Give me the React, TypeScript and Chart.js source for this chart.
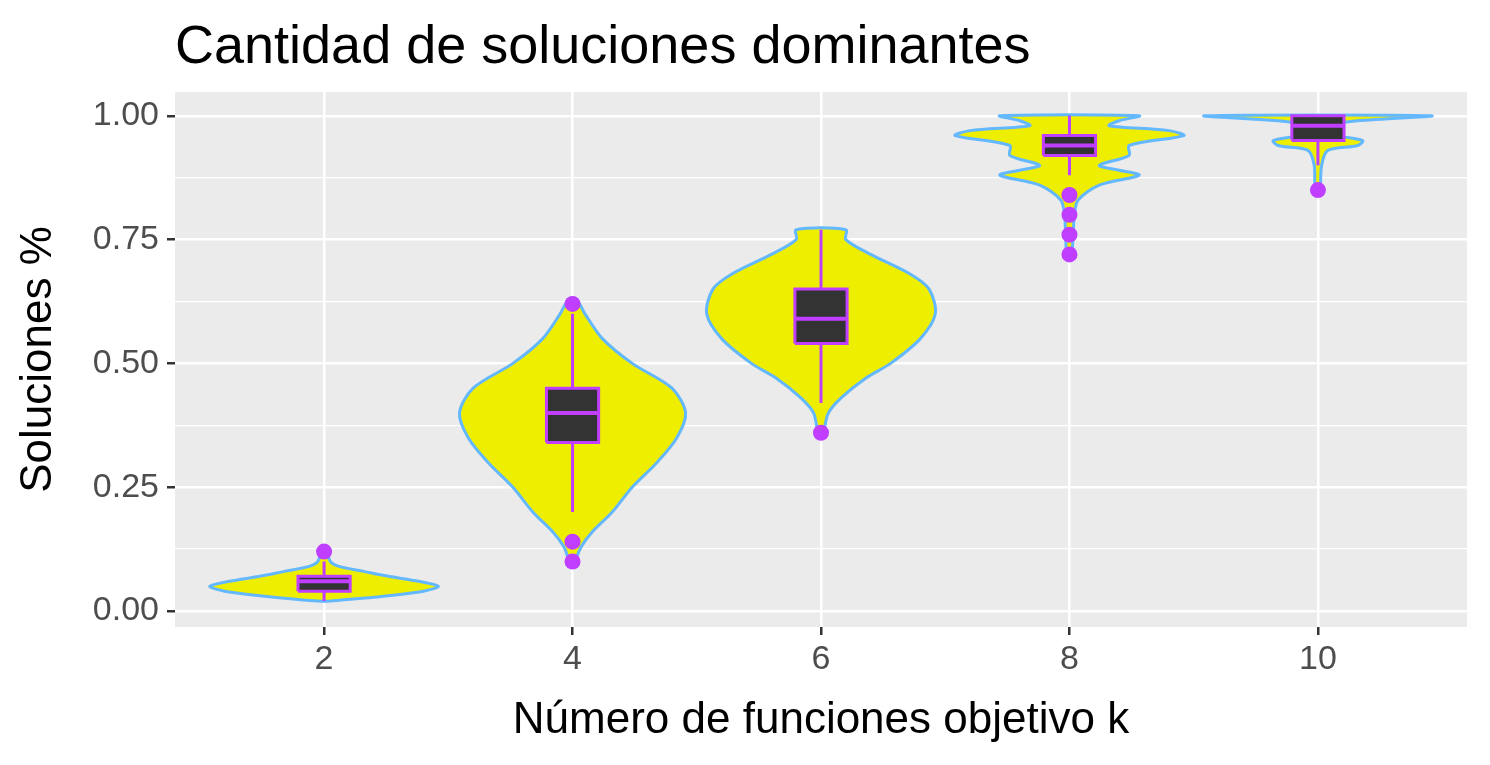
import { useEffect, useRef } from "react"
import Chart from "chart.js/auto"

const groups = [2, 4, 6, 8, 10]
const xTicks = [2, 4, 6, 8, 10]
const yTicks = [0, 0.125, 0.25, 0.375, 0.5, 0.625, 0.75, 0.875, 1]

// violin outlines: density levels (y) and half widths (x units)
const violinY = [
  [0.02, 0.03, 0.04, 0.05, 0.06, 0.07, 0.08, 0.09, 0.1, 0.12],
  [0.1, 0.13, 0.16, 0.2, 0.25, 0.3, 0.35, 0.4, 0.45, 0.5, 0.55, 0.6, 0.63],
  [0.36, 0.4, 0.43, 0.47, 0.5, 0.55, 0.6, 0.65, 0.68, 0.72, 0.75, 0.77],
  [0.72, 0.76, 0.8, 0.83, 0.86, 0.88, 0.89, 0.9, 0.92, 0.94, 0.96, 0.97, 0.98, 0.99, 1.0],
  [0.85, 0.9, 0.93, 0.94, 0.95, 0.96, 0.97, 0.98, 0.99, 1.0],
]
const violinW = [
  [0.05, 0.48, 0.8, 0.92, 0.76, 0.52, 0.32, 0.12, 0.05, 0.02],
  [0.02, 0.07, 0.16, 0.32, 0.48, 0.68, 0.84, 0.91, 0.8, 0.48, 0.24, 0.1, 0.03],
  [0.02, 0.06, 0.16, 0.36, 0.56, 0.8, 0.92, 0.87, 0.72, 0.4, 0.2, 0.2],
  [0.02, 0.03, 0.04, 0.07, 0.24, 0.56, 0.4, 0.24, 0.48, 0.48, 0.92, 0.8, 0.32, 0.4, 0.56],
  [0.02, 0.03, 0.08, 0.32, 0.36, 0.16, 0.07, 0.08, 0.32, 0.91],
]

const q1 = [0.04, 0.34, 0.54, 0.92, 0.95]
const median = [0.06, 0.4, 0.59, 0.94, 0.98]
const q3 = [0.07, 0.45, 0.65, 0.96, 1.0]
const whiskerLo = [0.02, 0.2, 0.42, 0.88, 0.9]
const whiskerHi = [0.1, 0.6, 0.77, 1.0, 1.0]
const outliers = [[0.12], [0.62, 0.14, 0.1], [0.36], [0.84, 0.8, 0.76, 0.72], [0.85]]

const BOX_HALF = 0.21
const PURPLE = "#BF3EFF"

const App = () => {
  const chartRef = useRef<HTMLCanvasElement>(null)
  const chartInstance = useRef<Chart | null>(null)

  useEffect(() => {
    document.body.style.margin = "0"
    if (!chartRef.current) return
    if (chartInstance.current) chartInstance.current.destroy()
    const ctx = chartRef.current.getContext("2d")
    if (!ctx) return

    const datasets: any[] = []
    groups.forEach((k, i) => {
      const ys = violinY[i]
      const ws = violinW[i]
      const pts = ys.map((y, j) => ({ x: k + ws[j], y }))
      for (let j = ys.length - 1; j >= 0; j--) pts.push({ x: k - ws[j], y: ys[j] })
      pts.push({ x: k + ws[0], y: ys[0] })
      datasets.push({
        type: "line", data: pts, order: 10, fill: "shape", tension: 0.3,
        backgroundColor: "#EEEE00", borderColor: "#63B8FF", borderWidth: 3, pointRadius: 0,
      })
      datasets.push({
        type: "line", order: 8, borderColor: PURPLE, borderWidth: 3, pointRadius: 0, spanGaps: false,
        data: [{ x: k, y: whiskerLo[i] }, { x: k, y: q1[i] }, { x: k, y: null }, { x: k, y: q3[i] }, { x: k, y: whiskerHi[i] }],
      })
      datasets.push({
        type: "line", order: 6, fill: "shape", backgroundColor: "#333333", borderColor: PURPLE,
        borderWidth: 3, pointRadius: 0, tension: 0,
        data: [
          { x: k - BOX_HALF, y: q1[i] }, { x: k + BOX_HALF, y: q1[i] }, { x: k + BOX_HALF, y: q3[i] },
          { x: k - BOX_HALF, y: q3[i] }, { x: k - BOX_HALF, y: q1[i] },
        ],
      })
      datasets.push({
        type: "line", order: 4, borderColor: PURPLE, borderWidth: 4, pointRadius: 0,
        data: [{ x: k - BOX_HALF, y: median[i] }, { x: k + BOX_HALF, y: median[i] }],
      })
      datasets.push({
        type: "scatter", order: 2, pointRadius: 8, pointBackgroundColor: PURPLE, pointBorderWidth: 0,
        data: outliers[i].map((y) => ({ x: k, y })),
      })
    })

    const bg = {
      id: "bg",
      beforeDraw(c: any) {
        const a = c.chartArea
        c.ctx.save()
        c.ctx.fillStyle = "#EBEBEB"
        c.ctx.fillRect(a.left, a.top, a.right - a.left, a.bottom - a.top)
        c.ctx.restore()
      },
    }

    const isMajor = (v: number) => Math.abs(v * 4 - Math.round(v * 4)) < 1e-6
    const tickFont = { family: "Liberation Sans, Arial", size: 34 }
    const titleFont = { family: "Liberation Sans, Arial", size: 44 }

    chartInstance.current = new Chart(ctx, {
      type: "line",
      data: { datasets },
      plugins: [bg],
      options: {
        animation: false,
        responsive: false,
        events: [],
        layout: { padding: { left: 10, right: 23, top: 92, bottom: 10 } },
        plugins: { legend: { display: false }, tooltip: { enabled: false } },
        scales: {
          x: {
            type: "linear", min: 0.8, max: 11.2,
            afterBuildTicks: (s: any) => { s.ticks = xTicks.map((v) => ({ value: v })) },
            afterFit: (s: any) => { s.height = 128 },
            ticks: { color: "#4D4D4D", font: tickFont, padding: 4, callback: (v: any) => String(v) },
            grid: { color: "#FFFFFF", lineWidth: 2.5, tickColor: "#333333", tickLength: 8 },
            border: { display: false },
            title: { display: true, text: "Número de funciones objetivo k", color: "#000", font: titleFont, padding: { top: 0, bottom: 8 } },
          },
          y: {
            type: "linear", min: -0.0323, max: 1.048,
            afterBuildTicks: (s: any) => { s.ticks = yTicks.map((v) => ({ value: v })) },
            afterFit: (s: any) => { s.width = 165 },
            ticks: {
              color: "#4D4D4D", font: tickFont, padding: 8,
              callback: (v: any) => (isMajor(Number(v)) ? Number(v).toFixed(2) : ""),
            },
            grid: {
              color: "#FFFFFF",
              lineWidth: (c: any) => (isMajor(c.tick.value) ? 2.5 : 1.2),
              tickColor: (c: any) => (isMajor(c.tick.value) ? "#333333" : "rgba(0,0,0,0)"),
              tickLength: 8,
            },
            border: { display: false },
            title: { display: true, text: "Soluciones %", color: "#000", font: titleFont, padding: { top: 2, bottom: 0 } },
          },
        },
      },
    } as any)

    return () => {
      if (chartInstance.current) chartInstance.current.destroy()
    }
  }, [])

  return (
    <div style={{ position: "relative", width: 1490, height: 765, background: "#fff" }}>
      <div style={{ position: "absolute", left: 175, top: 12, fontFamily: "Liberation Sans, Arial", fontSize: 54, color: "#000", lineHeight: 1.2 }}>
        Cantidad de soluciones dominantes
      </div>
      <canvas ref={chartRef} width={1490} height={765} />
    </div>
  )
}

export default App
